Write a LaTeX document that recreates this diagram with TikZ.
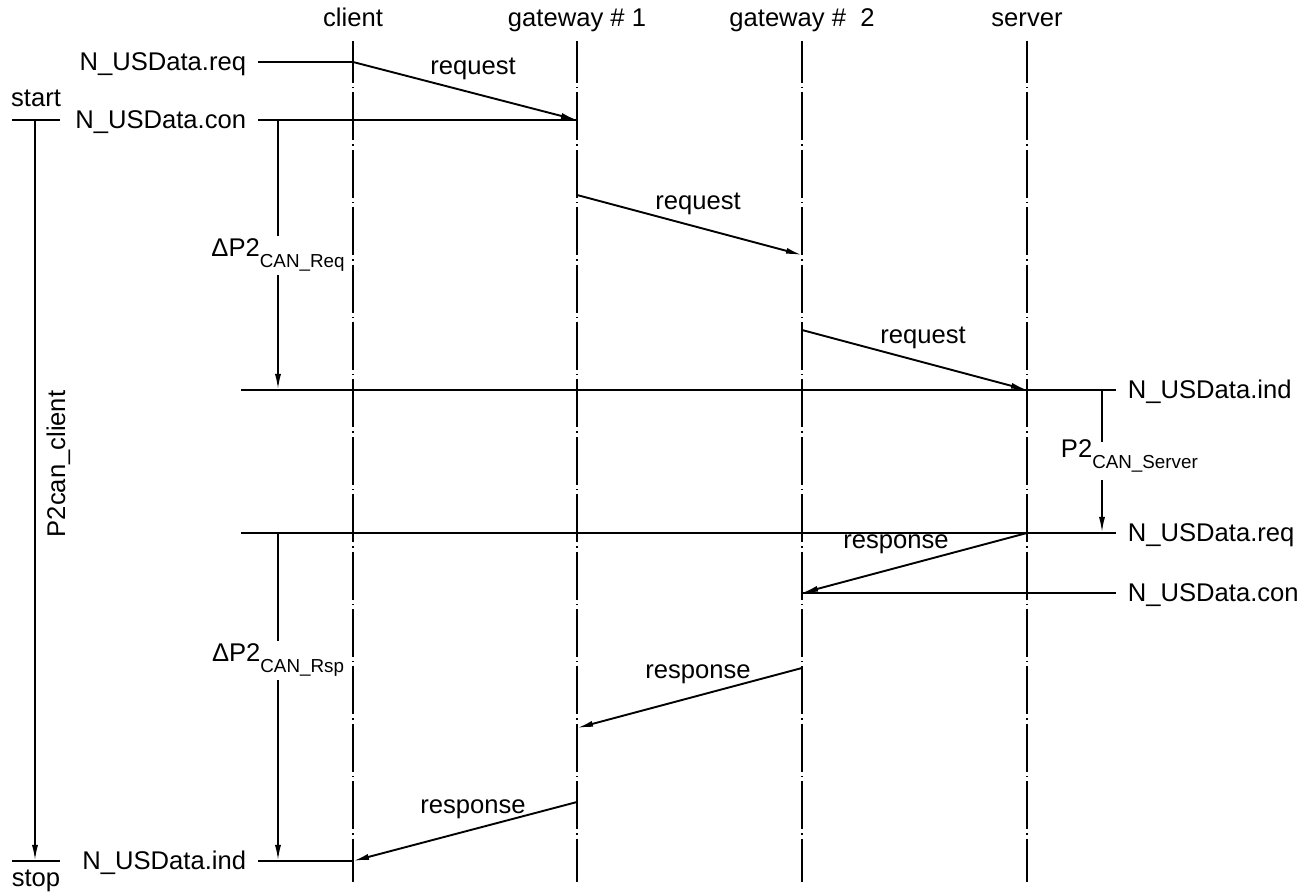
\documentclass[tikz,border=0pt]{standalone}
\usepackage{fontspec}
\setmainfont{Liberation Sans}
\usetikzlibrary{arrows.meta,positioning,calc}
\newcommand{\lowsub}[1]{\raisebox{-5.5pt}{\fontsize{9.4}{11}\selectfont #1}}

\begin{document}
\begin{tikzpicture}[x=0.5pt, y=-0.5pt, line width=0.95pt,
    txt/.style={inner sep=0pt, text height=9pt, text depth=0pt, font=\fontsize{12.8}{15}\selectfont},
    tag/.style={txt, inner xsep=5.5pt},
    sub/.style={inner sep=1pt, font=\fontsize{12.8}{15}\selectfont},
    life/.style={line width=0.9pt, dash pattern=on 24pt off 2pt on 0.7pt off 2pt, dash phase=3pt},
    msg/.style={-{Latex[length=8pt,width=3pt]}}]
    \useasboundingbox (0,0) rectangle (1313,892);

    % Lifelines
    \node[txt, anchor=base] (client) at (353,27) {client};
    \node[txt, anchor=base] (gwA) at (577,27) {gateway \# 1};
    \node[txt, anchor=base] (gwB) at (802,27) {gateway \#\ \ 2};
    \node[txt, anchor=base] (server) at (1027,27) {server};
    \foreach \n in {client,gwA,gwB,server}
        \draw[life] (\n |- 0,41) -- (\n |- 0,882);

    % Message points
    \coordinate (q1) at (client |- 0,62);
    \coordinate (q2) at (gwA |- 0,120);
    \coordinate (q3) at (gwA |- 0,195);
    \coordinate (q4) at (gwB |- 0,255);
    \coordinate (q5) at (gwB |- 0,330);
    \coordinate (q6) at (server |- 0,390);
    \coordinate (r1) at (server |- 0,533);
    \coordinate (r2) at (gwB |- 0,593);
    \coordinate (r3) at (gwB |- 0,668);
    \coordinate (r4) at (gwA |- 0,728);
    \coordinate (r5) at (gwA |- 0,802);
    \coordinate (r6) at (client |- 0,861);

    % Service primitives
    \node[tag, anchor=east] (reqL) at (258,62) {N\_USData.req};
    \node[tag, anchor=east] (conL) at (258,120) {N\_USData.con};
    \node[tag, anchor=east] (indL) at (258,861) {N\_USData.ind};
    \node[tag, anchor=west] (indR) at (1116,390) {N\_USData.ind};
    \node[tag, anchor=west] (reqR) at (1116,533) {N\_USData.req};
    \node[tag, anchor=west] (conR) at (1116,593) {N\_USData.con};
    \coordinate (h1) at (241,390);
    \coordinate (h2) at (241,533);
    \draw (reqL) -- (q1);
    \draw (conL) -- (q2);
    \draw (indL) -- (r6);
    \draw (h1) -- (indR);
    \draw (h2) -- (reqR);
    \draw (conR) -- (r2);

    % Request
    \draw[msg] (q1) -- (q2);
    \draw[msg] (q3) -- (q4);
    \draw[msg] (q5) -- (q6);
    \node[txt, anchor=base] (rq1) at (473,75) {request};
    \node[txt, anchor=base] (rq2) at (698,210) {request};
    \node[txt, anchor=base] (rq3) at (923,344) {request};

    % Response
    \draw[msg] (r1) -- (r2);
    \draw[msg] (r3) -- (r4);
    \draw[msg] (r5) -- (r6);
    \node[txt, anchor=base] (rs1) at (896,549) {response};
    \node[txt, anchor=base] (rs2) at (698,679) {response};
    \node[txt, anchor=base] (rs3) at (473,813) {response};

    % Timing
    \coordinate (dA) at (278,120);
    \coordinate (dB) at (278,390);
    \coordinate (dC) at (278,533);
    \coordinate (dD) at (278,861);
    \node[sub, anchor=base] (dReq) at (278,257) {ΔP2\lowsub{CAN\_Req}};
    \node[sub, anchor=base] (dRsp) at (278,662) {ΔP2\lowsub{CAN\_Rsp}};
    \draw (dA) -- (dReq);
    \draw[msg] (dReq) -- (dB);
    \draw (dC) -- (dRsp);
    \draw[msg] (dRsp) -- (dD);

    \coordinate (pA) at (1102,390);
    \coordinate (pB) at (1102,442);
    \coordinate (pC) at (1102,480);
    \coordinate (pD) at (1102,533);
    \node[sub, inner sep=0pt, anchor=base west] (pSrv) at (1060,458) {P2\lowsub{CAN\_Server}};
    \draw (pA) -- (pB);
    \draw[msg] (pC) -- (pD);

    % P2can client
    \coordinate (st) at (35,120);
    \coordinate (sp) at (35,861);
    \node[txt, anchor=base] (start) at (36,107) {start};
    \node[txt, anchor=base] (stop) at (36,886) {stop};
    \draw ([xshift=-11.5pt]st) -- ([xshift=12.5pt]st);
    \draw ([xshift=-11.5pt]sp) -- ([xshift=12.5pt]sp);
    \draw[msg] (st) -- (sp);
    \node[txt, rotate=90] (p2c) at (56,464) {P2can\_client};
\end{tikzpicture}
\end{document}
